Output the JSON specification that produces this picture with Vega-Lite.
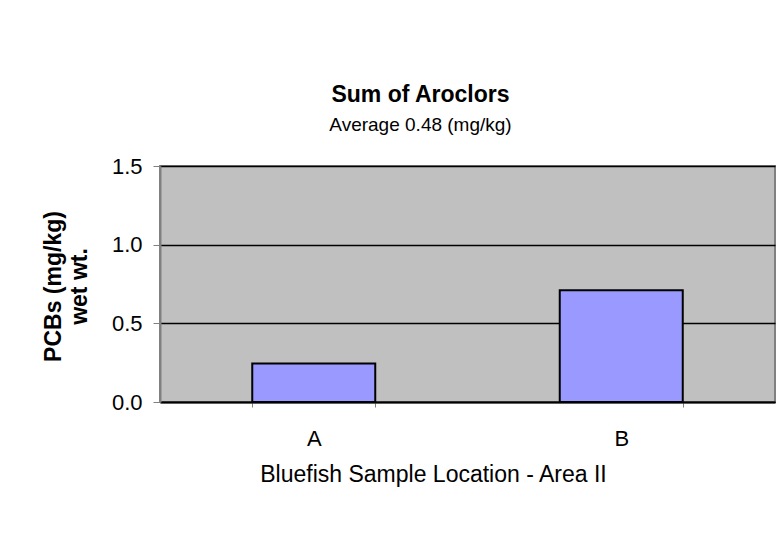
{
  "$schema": "https://vega.github.io/schema/vega-lite/v6.json",
  "width": 615,
  "height": 236,
  "autosize": {"type": "none"},
  "padding": {"left": 160, "top": 166, "right": 5, "bottom": 137},
  "background": "white",
  "title": {
    "text": "Sum of Aroclors",
    "subtitle": "Average 0.48 (mg/kg)",
    "anchor": "middle",
    "dx": -47,
    "offset": 20,
    "font": "Liberation Sans, Arial",
    "fontSize": 23,
    "fontWeight": "bold",
    "color": "black",
    "subtitleFont": "Liberation Sans, Arial",
    "subtitleFontSize": 19,
    "subtitleColor": "black",
    "subtitlePadding": 9
  },
  "data": {
    "values": [
      {"location": "A", "pcbs": 0.245},
      {"location": "B", "pcbs": 0.71}
    ]
  },
  "mark": {"type": "bar", "fill": "#9999ff", "stroke": "black", "strokeWidth": 2},
  "encoding": {
    "x": {
      "field": "location",
      "type": "nominal",
      "scale": {"paddingInner": 0.6, "paddingOuter": 0.3},
      "axis": {
        "title": "Bluefish Sample Location  - Area II",
        "labelAngle": 0,
        "labelFont": "Liberation Sans, Arial",
        "labelFontSize": 22,
        "labelColor": "black",
        "labelPadding": 21,
        "tickBand": "extent",
        "tickSize": 5,
        "tickColor": "#808080",
        "domainColor": "black",
        "domainWidth": 2,
        "titleFont": "Liberation Sans, Arial",
        "titleFontSize": 23,
        "titleFontWeight": "normal",
        "titleColor": "black",
        "titleX": 273,
        "titleY": 61,
        "titleAlign": "center"
      }
    },
    "y": {
      "field": "pcbs",
      "type": "quantitative",
      "scale": {"domain": [0, 1.5], "nice": false},
      "axis": {
        "title": ["PCBs (mg/kg)", "wet wt."],
        "values": [0, 0.5, 1, 1.5],
        "format": ".1f",
        "labelFont": "Liberation Sans, Arial",
        "labelFontSize": 22,
        "labelColor": "black",
        "labelPadding": 11,
        "tickSize": 7,
        "tickColor": "#808080",
        "domainColor": "#808080",
        "domainWidth": 2,
        "grid": true,
        "gridColor": "black",
        "gridWidth": 1.5,
        "titleFont": "Liberation Sans, Arial",
        "titleFontSize": 23,
        "titleFontWeight": "bold",
        "titleColor": "black",
        "titleLineHeight": 26,
        "titleBaseline": "middle",
        "titleX": -107,
        "titleY": 120
      }
    }
  },
  "config": {
    "view": {"fill": "#c0c0c0", "stroke": "#808080", "strokeWidth": 2}
  }
}
